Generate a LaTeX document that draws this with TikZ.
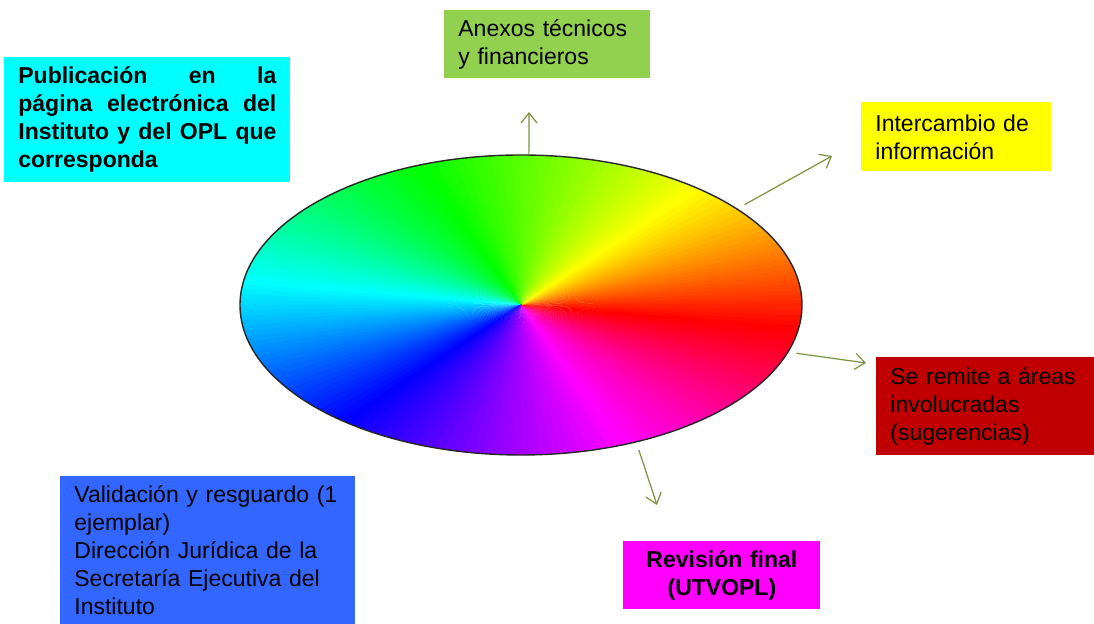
\documentclass[tikz,border=0pt]{standalone}
\usepackage{fontspec}
\setmainfont{Liberation Sans}
\usetikzlibrary{shapes.geometric,arrows.meta}

\definecolor{anexosgreen}{HTML}{92D050}
\definecolor{interyellow}{HTML}{FFFF00}
\definecolor{remitered}{HTML}{C00000}
\definecolor{revmagenta}{HTML}{FF00FF}
\definecolor{pubcyan}{HTML}{00FFFF}
\definecolor{valblue}{HTML}{3366FF}
\definecolor{flowgreen}{HTML}{77933C}

\begin{document}
\begin{tikzpicture}[x=0.5pt,y=0.5pt,>={Straight Barb[length=5pt,width=8pt]},
    box/.style={anchor=north west,inner sep=0pt,inner xsep=7pt,align=left,
                font=\fontsize{11.5}{14}\selectfont},
    flow/.style={->,draw=flowgreen,line width=0.6pt}]
  \useasboundingbox (0,0) rectangle (1094,624);

  % colour wheel
  \coordinate (ctr) at (521,319);
  \foreach \a in {0,2,...,358} {
    \pgfmathtruncatemacro\h{mod(\a+10,360)}
    \definecolor{wedge}{Hsb}{\h,1,1}
    \fill[wedge] (ctr) -- ++(\a:281 and 150)
      arc[start angle=\a,end angle=\a+2.6,x radius=281,y radius=150] -- cycle;
  }
  \node[ellipse,draw=black!85,line width=0.7pt,inner sep=0pt,
        minimum width=281pt,minimum height=150pt] (wheel) at (ctr) {};

  % boxes
  \node[box,fill=anexosgreen,text width=89pt,minimum height=34pt] (anexos) at (444,614)
    {Anexos técnicos\\y financieros};
  \node[box,fill=interyellow,text width=81pt,minimum height=34.5pt] (intercambio) at (861,522)
    {Intercambio de\\información};
  \node[box,fill=remitered,text width=95pt,minimum height=49pt] (remite) at (876,267)
    {Se remite a áreas\\involucradas\\(sugerencias)};
  \node[box,fill=revmagenta,text width=84.5pt,minimum height=34pt,align=center,
        font=\fontsize{11.5}{14}\selectfont\bfseries] (revision) at (623,83)
    {Revisión final\\(UTVOPL)};
  \node[box,fill=pubcyan,text width=129pt,minimum height=62.5pt,align=justify,
        font=\fontsize{11.5}{14}\selectfont\bfseries] (publicacion) at (4,567)
    {\hyphenpenalty=10000 Publicación en la\linebreak página electrónica del\linebreak
     Instituto y del OPL que\linebreak corresponda};
  \node[box,fill=valblue,text width=133.5pt,minimum height=74pt] (validacion) at (60,148)
    {Validación y resguardo (1\\ejemplar)\\Dirección Jurídica de la\\Secretaría Ejecutiva del\\Instituto};

  % arrows
  \coordinate (anexos-in) at (529,512);
  \coordinate (intercambio-in) at (832,468);
  \coordinate (remite-in) at (866,261);
  \coordinate (revision-in) at (657,119);
  \draw[flow] (wheel.87) -- (anexos-in);
  \draw[flow,shorten <=4pt] (wheel.24) -- (intercambio-in);
  \draw[flow,shorten <=4pt] (wheel.-10) -- (remite-in);
  \draw[flow,shorten <=4pt] (wheel.-50) -- (revision-in);
\end{tikzpicture}
\end{document}
